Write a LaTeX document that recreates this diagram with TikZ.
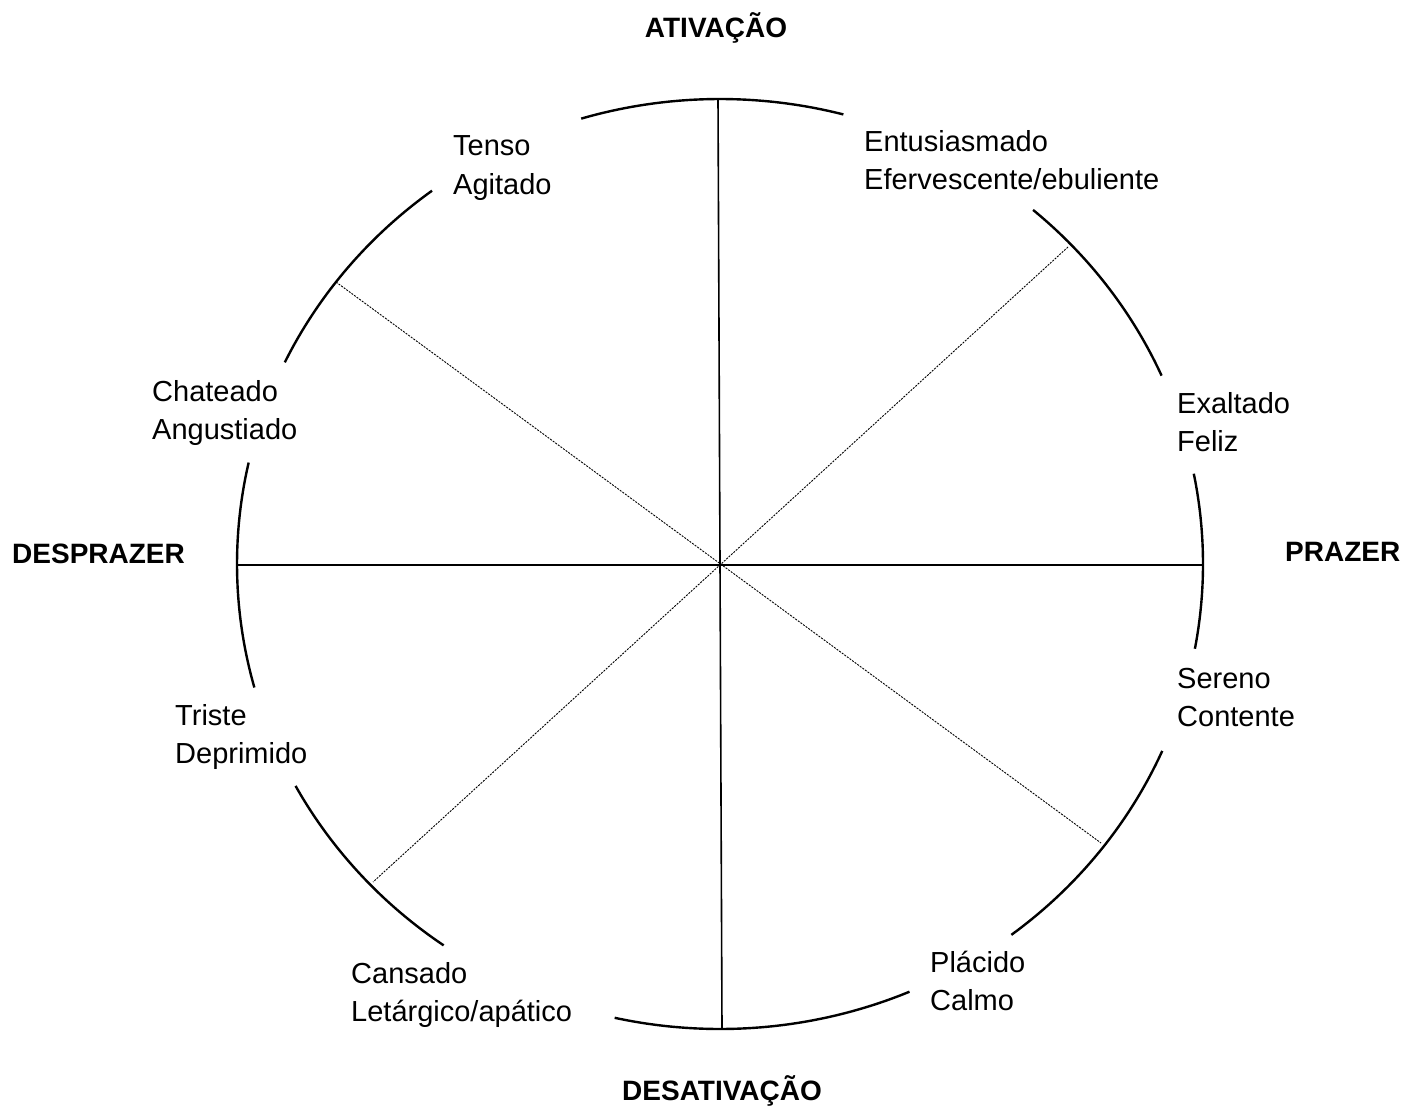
\documentclass[tikz,border=0pt]{standalone}
\usepackage{fontspec}
\setmainfont{Liberation Sans}
\begin{document}
\begin{tikzpicture}[x=1pt,y=-1pt,
  rim/.style={line width=2.4pt},
  axisline/.style={line width=1.6pt},
  diag/.style={line width=0.9pt, dash pattern=on 2pt off 1.2pt},
  mood/.style={anchor=base west, inner sep=0pt, align=left, font=\fontsize{29}{38.5}\selectfont},
  pole/.style={inner sep=0pt, font=\fontsize{28}{34}\selectfont\bfseries}]
\useasboundingbox (0,0) rectangle (1421,1108);
\fill[white] (0,0) rectangle (1421,1108);
% outer rim (ellipse arcs with gaps)
\foreach \a/\b in {75.2/106.7, 23.9/49.6, -10.5/11.2, -52.9/-23.7, -102.6/-66.9, 208.5/235.1, 167.4/195.4, 126.6/154.3}
  \draw[rim] plot[domain=\a:\b, samples=60, smooth] ({720+483*cos(\x)}, {564-465*sin(\x)});
% coordinates
\coordinate (O) at (720,564);
\coordinate (top) at (718,99);
\coordinate (bot) at (722,1029);
\coordinate (lft) at (237,565);
\coordinate (rgt) at (1203,565);
\coordinate (ul) at (336,282);
\coordinate (lr) at (1101,843);
\coordinate (ur) at (1068,247);
\coordinate (ll) at (373,882);
% axes
\draw[axisline] (top) -- (bot);
\draw[axisline] (lft) -- (rgt);
\draw[diag] (ul) -- (lr);
\draw[diag] (ur) -- (ll);
% labels (anchor = baseline of the second line)
\node[mood] (tenso) at (453,194) {Tenso\\Agitado};
\node[mood] (entus) at (864,189.5) {Entusiasmado\\Efervescente/ebuliente};
\node[mood] (exalt) at (1177,451.5) {Exaltado\\Feliz};
\node[mood] (seren) at (1177,726.5) {Sereno\\Contente};
\node[mood] (placi) at (930,1010.5) {Plácido\\Calmo};
\node[mood] (cansa) at (351,1021.5) {Cansado\\Letárgico/apático};
\node[mood] (trist) at (175,763.5) {Triste\\Deprimido};
\node[mood] (chate) at (152,439.5) {Chateado\\Angustiado};
\node[pole, anchor=base] (ativ) at (716,38) {ATIVAÇÃO};
\node[pole, anchor=base] (desativ) at (722,1100) {DESATIVAÇÃO};
\node[pole, anchor=base west] (despr) at (12,563) {DESPRAZER};
\node[pole, anchor=base west] (praz) at (1285,561) {PRAZER};
\end{tikzpicture}
\end{document}
